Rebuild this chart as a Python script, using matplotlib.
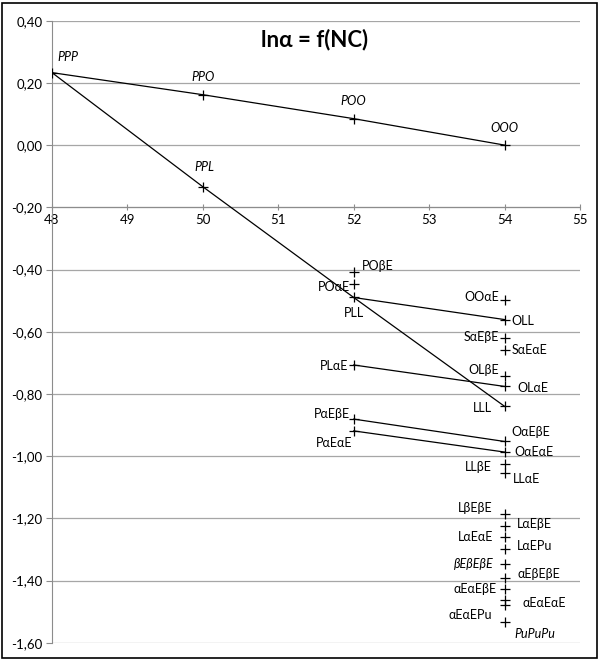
import matplotlib.pyplot as plt
from matplotlib.patches import Rectangle
from matplotlib.ticker import FuncFormatter

plt.rcParams['font.family'] = ['Lato', 'DejaVu Sans']

# Datos: número de carbonos (NC) y ln(alfa) de cada triglicérido
nombres = ["PPP", "PPO", "POO", "OOO", "PPL", "PLL", "LLL",
           "POβE", "POαE", "OOαE", "OLL", "SαEβE", "SαEαE", "PLαE",
           "OLβE", "OLαE", "PαEβE", "PαEαE", "OαEβE", "OαEαE",
           "LLβE", "LLαE", "LβEβE", "LαEβE", "LαEαE", "LαEPu",
           "βEβEβE", "αEβEβE", "αEαEβE", "αEαEαE", "αEαEPu", "PuPuPu"]
nc = [48, 50, 52, 54, 50, 52, 54,
      52, 52, 54, 54, 54, 54, 52,
      54, 54, 52, 52, 54, 54,
      54, 54, 54, 54, 54, 54,
      54, 54, 54, 54, 54, 54]
ln_alfa = [0.233, 0.162, 0.085, 0.000, -0.134, -0.490, -0.840,
           -0.407, -0.447, -0.498, -0.561, -0.620, -0.658, -0.707,
           -0.741, -0.776, -0.881, -0.919, -0.953, -0.987,
           -1.025, -1.055, -1.186, -1.224, -1.259, -1.299,
           -1.347, -1.392, -1.427, -1.463, -1.479, -1.535]

# series unidas por líneas
series = [["PPP", "PPO", "POO", "OOO"],
          ["PPP", "PPL", "PLL", "LLL"],
          ["PLL", "OLL"],
          ["PLαE", "OLαE"],
          ["PαEβE", "OαEβE"],
          ["PαEαE", "OαEαE"]]

cursiva = {"PPP", "PPO", "POO", "OOO", "PPL", "βEβEβE", "PuPuPu"}

punto = {n: (x, y) for n, x, y in zip(nombres, nc, ln_alfa)}

fig = plt.figure(figsize=(6, 6.6), dpi=100)
ax = fig.add_axes([52/600, 1 - 642.7/660, 528/600, 622/660])

for s in series:
    ax.plot([punto[n][0] for n in s], [punto[n][1] for n in s],
            color='black', lw=0.9, zorder=3)
ax.plot(nc, ln_alfa, ls='none', marker='+', ms=7, mew=0.9,
        color='black', zorder=4)

# posición de las etiquetas (dx, dy en puntos, alineación)
pos = {
    "PPP": (4, 11, 'left'), "PPO": (0, 13, 'center'), "POO": (0, 13, 'center'),
    "OOO": (0, 12, 'center'), "PPL": (1, 14, 'center'), "PLL": (0, -11, 'center'),
    "LLL": (-9, -1, 'right'), "POβE": (6, 4, 'left'), "POαE": (-3, -2, 'right'),
    "OOαE": (-4, 2, 'right'), "OLL": (5, -1, 'left'), "SαEβE": (-4, 1, 'right'),
    "SαEαE": (5, 0, 'left'), "PLαE": (-4, -1, 'right'), "OLβE": (-4, 4, 'right'),
    "OLαE": (9, -1, 'left'), "PαEβE": (-3, 4, 'right'), "PαEαE": (-1, -9, 'right'),
    "OαEβE": (5, 7, 'left'), "OαEαE": (7, 0, 'left'), "LLβE": (-9, -2, 'right'),
    "LLαE": (6, -4, 'left'), "LβEβE": (-9, 4, 'right'), "LαEβE": (9, 1, 'left'),
    "LαEαE": (-8, 0, 'right'), "LαEPu": (9, 2, 'left'), "βEβEβE": (-8, 0, 'right'),
    "αEβEβE": (9, 3, 'left'), "αEαEβE": (-6, 0, 'right'), "αEαEαE": (13, -2, 'left'),
    "αEαEPu": (-9, -7, 'right'), "PuPuPu": (7, -8, 'left'),
}
for n in nombres:
    dx, dy, ha = pos[n]
    ax.annotate(n, punto[n], xytext=(dx, dy), textcoords='offset points',
                ha=ha, va='center', fontsize=9,
                style='italic' if n in cursiva else 'normal')

ax.set_xlim(48, 55)
ax.set_ylim(-1.6, 0.4)
ax.set_xticks(range(48, 56))
ax.set_yticks([0.4 - 0.2 * i for i in range(11)])
ax.yaxis.set_major_formatter(FuncFormatter(lambda v, p: f"{v:.2f}".replace('.', ',').replace('-0,00', '0,00')))
ax.grid(axis='y', color='#a6a6a6', lw=0.9)
ax.set_axisbelow(True)

for lado in ['top', 'right']:
    ax.spines[lado].set_visible(False)
ax.spines['bottom'].set_position(('data', -0.2))
ax.spines['bottom'].set_color('#8c8c8c')
ax.spines['left'].set_color('#8c8c8c')
ax.tick_params(axis='y', direction='out', length=4, color='#8c8c8c', labelsize=9.5, pad=3)
ax.tick_params(axis='x', direction='inout', length=5, color='#8c8c8c', labelsize=9.5, pad=2)

fig.text(315/600, 1 - 40/660, "lnα = f(NC)", ha='center', va='center',
         fontsize=16, fontweight='bold')
fig.patches.append(Rectangle((2/600, 2/660), 595/600, 655/660, transform=fig.transFigure,
                             fill=False, edgecolor='black', lw=1.2))

fig.savefig("out.png", dpi=100)
